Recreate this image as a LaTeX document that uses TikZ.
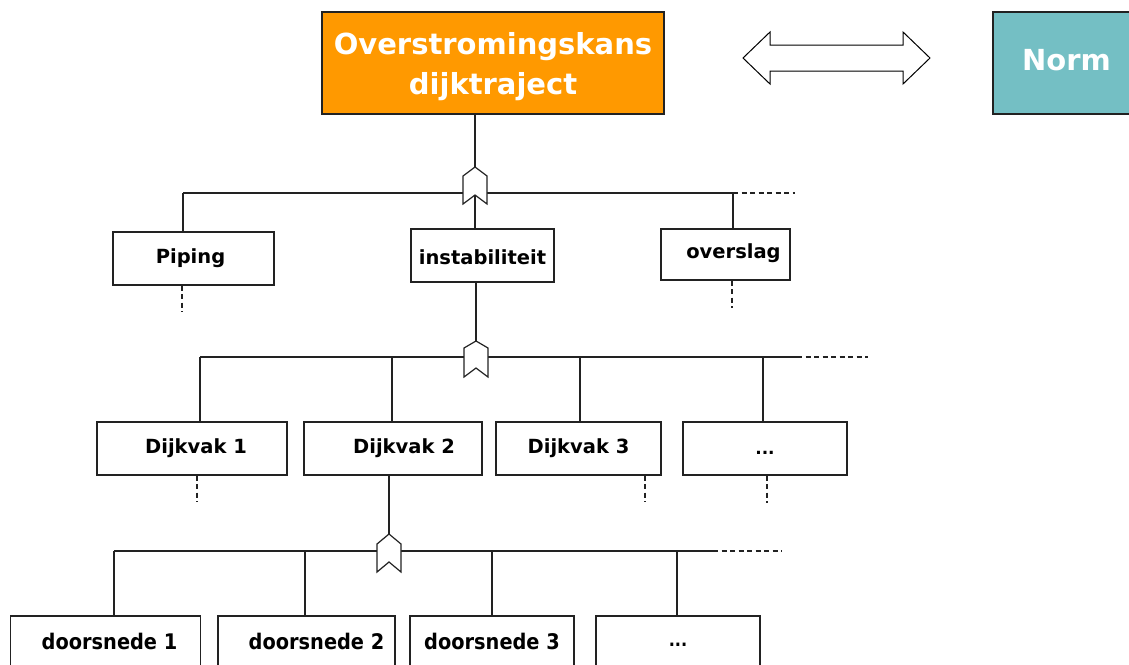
\documentclass[tikz,border=0pt]{standalone}
\usepackage{fontspec}
\setmainfont{DejaVu Sans}
\newfontfamily\condfont{DejaVu Sans Condensed}
\definecolor{orangebox}{HTML}{FF9900}
\definecolor{normbox}{HTML}{74BFC4}
\definecolor{linegray}{HTML}{222222}
\newcommand{\shiftv}[2]{\raisebox{#1}[\height][\depth]{#2}}
\begin{document}
\begin{tikzpicture}[x=1pt,y=-1pt,
  box/.style={draw=linegray,line width=1.2pt,rectangle,inner sep=0pt,align=center,font=\bfseries\fontsize{19.5}{22}\selectfont},
  bbox/.style={draw=linegray,line width=1.2pt,rectangle,inner sep=0pt,align=center,font=\condfont\bfseries\fontsize{21.5}{22}\selectfont},
  conn/.style={draw=linegray,line width=1.2pt},
  dashconn/.style={draw=linegray,line width=1.2pt,dash pattern=on 5pt off 3.5pt},
  gate/.style={draw=linegray,line width=1.2pt,fill=white,line join=miter}]
\useasboundingbox (0,0) rectangle (1129,664);

% top boxes
\node[box,fill=orangebox,text=white,minimum width=342pt,minimum height=102pt,font=\bfseries\fontsize{29}{40}\selectfont] (top) at (493,63) {\rule{0pt}{30pt}Overstromingskans\\dijktraject};
\node[box,fill=normbox,text=white,minimum width=147pt,minimum height=102pt,font=\bfseries\fontsize{29}{34}\selectfont] (norm) at (1066.5,63) {\shiftv{3pt}{Norm}};
\draw[line width=1pt,fill=white,line join=miter] (743,58) -- (770,32) -- (770,45) -- (903,45) -- (903,32) -- (930,58) -- (903,84) -- (903,71) -- (770,71) -- (770,84) -- cycle;

% level 1 boxes
\node[box,minimum width=161pt,minimum height=53pt] (piping) at (193.5,258.5) {\hspace*{-6pt}Piping};
\node[box,minimum width=143pt,minimum height=53pt] (inst) at (482.5,255.5) {\shiftv{-2pt}{instabiliteit}};
\node[box,minimum width=129pt,minimum height=51pt] (overslag) at (725.5,254.5) {\hspace*{16pt}\shiftv{1pt}{overslag}};

% level 2 boxes
\node[box,minimum width=190pt,minimum height=53pt] (dk1) at (192,448.5) {\hspace*{8pt}Dijkvak 1};
\node[box,minimum width=178pt,minimum height=53pt] (dk2) at (393,448.5) {\hspace*{22pt}Dijkvak 2};
\node[box,minimum width=165pt,minimum height=53pt] (dk3) at (578.5,448.5) {Dijkvak 3};
\node[box,minimum width=164pt,minimum height=53pt,font=\bfseries\fontsize{17}{20}\selectfont] (dk4) at (765,448.5) {\shiftv{-4pt}{...}};

% level 3 boxes
\node[bbox,minimum width=190pt,minimum height=50pt] (ds1) at (105.5,641) {\hspace*{8pt}doorsnede 1};
\node[bbox,minimum width=177pt,minimum height=50pt] (ds2) at (306.5,641) {\hspace*{20pt}doorsnede 2};
\node[bbox,minimum width=164pt,minimum height=50pt] (ds3) at (492,641) {doorsnede 3};
\node[bbox,minimum width=164pt,minimum height=50pt,font=\condfont\bfseries\fontsize{18}{20}\selectfont] (ds4) at (678,641) {\shiftv{-4pt}{...}};

% gate 1
\coordinate (g1t) at (475,167);
\coordinate (g1n) at (475,195);
\draw[conn] (183,193) -- (733,193);
\draw[dashconn] (733,193) -- (795,193);
\draw[conn] (g1t |- top.south) -- (g1t);
\draw[gate] (g1t) -- (487,176) -- (487,204) -- (g1n) -- (463,204) -- (463,176) -- cycle;
\draw[conn] (g1n) -- (g1n |- inst.north);
\draw[conn] (183,193) -- (183,193 |- piping.north);
\draw[conn] (733,193) -- (733,193 |- overslag.north);
\draw[dashconn] (182,193 |- piping.south) -- (182,312);
\draw[dashconn] (732,193 |- overslag.south) -- (732,308);

% gate 2
\coordinate (g2t) at (476,341);
\coordinate (g2n) at (476,368);
\draw[conn] (200,357) -- (797,357);
\draw[dashconn] (797,357) -- (868,357);
\draw[conn] (g2t |- inst.south) -- (g2t);
\draw[gate] (g2t) -- (488,348) -- (488,377) -- (g2n) -- (464,377) -- (464,348) -- cycle;
\draw[conn] (200,357) -- (200,357 |- dk1.north);
\draw[conn] (392,357) -- (392,357 |- dk2.north);
\draw[conn] (580,357) -- (580,357 |- dk3.north);
\draw[conn] (763,357) -- (763,357 |- dk4.north);
\draw[dashconn] (197,475 |- dk1.south) -- (197,502);
\draw[dashconn] (645,475 |- dk3.south) -- (645,502);
\draw[dashconn] (767,475 |- dk4.south) -- (767,503);

% gate 3
\coordinate (g3t) at (389,534);
\coordinate (g3n) at (389,562);
\draw[conn] (114,551) -- (713,551);
\draw[dashconn] (713,551) -- (782,551);
\draw[conn] (g3t |- dk2.south) -- (g3t);
\draw[gate] (g3t) -- (401,544) -- (401,572) -- (g3n) -- (377,572) -- (377,544) -- cycle;
\draw[conn] (114,551) -- (114,551 |- ds1.north);
\draw[conn] (305,551) -- (305,551 |- ds2.north);
\draw[conn] (492,551) -- (492,551 |- ds3.north);
\draw[conn] (677,551) -- (677,551 |- ds4.north);
\end{tikzpicture}
\end{document}
